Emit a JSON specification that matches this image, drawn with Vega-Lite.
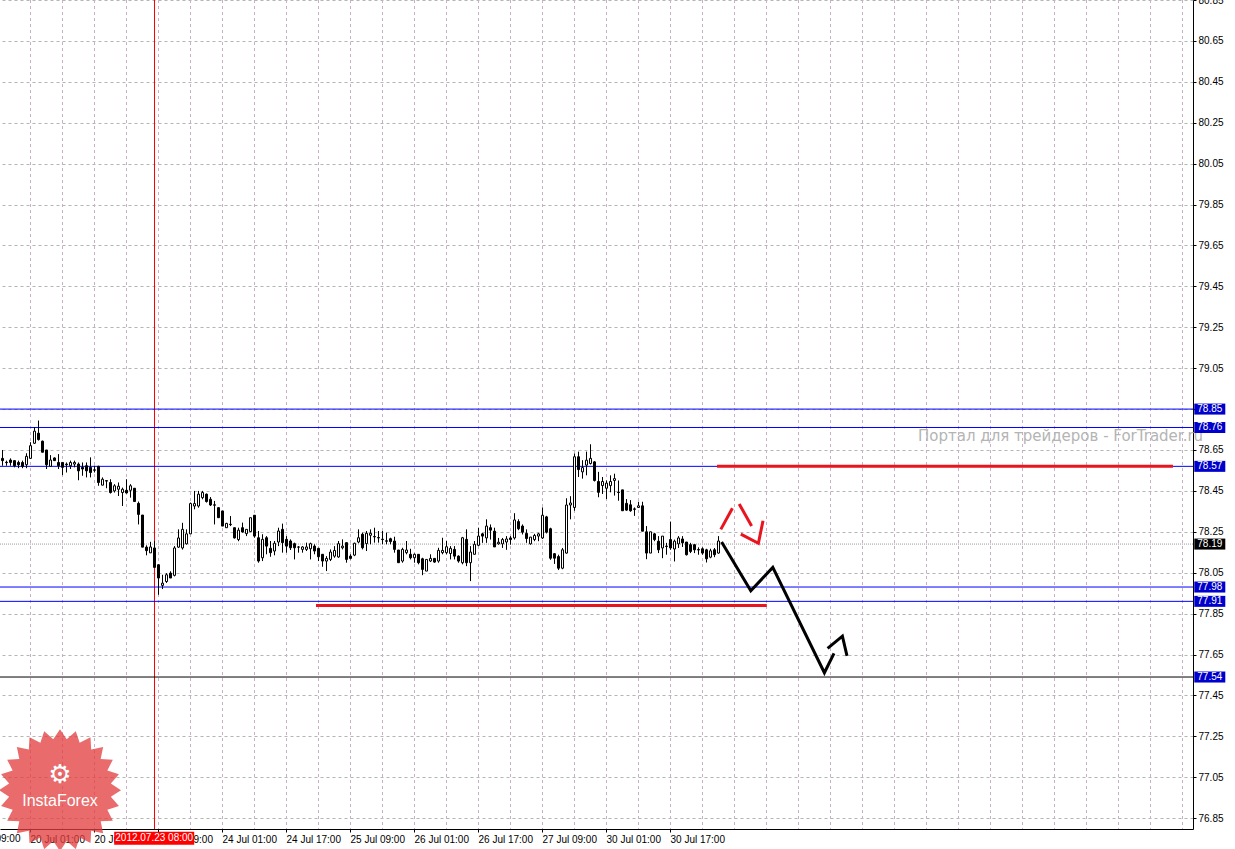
{
  "$schema": "https://vega.github.io/schema/vega-lite/v6.json",
  "width": 1193,
  "height": 829,
  "autosize": {"type": "none"},
  "padding": {"left": 0, "top": 0, "right": 42, "bottom": 20},
  "background": "#ffffff",
  "config": {
    "view": {"stroke": null},
    "scale": {"continuousPadding": 0},
    "axis": {"labelFont": "Liberation Sans", "labelFontSize": 10, "labelColor": "#000000", "titleOpacity": 0}
  },
  "datasets": {
    "candles": [
      {"t":-7,"o":78.609,"h":78.650,"l":78.573,"c":78.598},
      {"t":-6,"o":78.590,"h":78.598,"l":78.573,"c":78.588},
      {"t":-5,"o":78.601,"h":78.609,"l":78.573,"c":78.589},
      {"t":-4,"o":78.598,"h":78.598,"l":78.565,"c":78.573},
      {"t":-3,"o":78.589,"h":78.598,"l":78.561,"c":78.578},
      {"t":-2,"o":78.589,"h":78.598,"l":78.561,"c":78.570},
      {"t":-1,"o":78.578,"h":78.634,"l":78.561,"c":78.619},
      {"t":0,"o":78.609,"h":78.688,"l":78.606,"c":78.671},
      {"t":1,"o":78.683,"h":78.761,"l":78.680,"c":78.742},
      {"t":2,"o":78.732,"h":78.794,"l":78.696,"c":78.701},
      {"t":3,"o":78.693,"h":78.696,"l":78.639,"c":78.639},
      {"t":4,"o":78.650,"h":78.650,"l":78.557,"c":78.578},
      {"t":5,"o":78.570,"h":78.625,"l":78.570,"c":78.601},
      {"t":6,"o":78.611,"h":78.614,"l":78.598,"c":78.598},
      {"t":7,"o":78.589,"h":78.630,"l":78.557,"c":78.573},
      {"t":8,"o":78.589,"h":78.589,"l":78.527,"c":78.565},
      {"t":9,"o":78.581,"h":78.589,"l":78.540,"c":78.578},
      {"t":10,"o":78.573,"h":78.598,"l":78.557,"c":78.589},
      {"t":11,"o":78.581,"h":78.598,"l":78.565,"c":78.589},
      {"t":12,"o":78.581,"h":78.589,"l":78.502,"c":78.548},
      {"t":13,"o":78.565,"h":78.589,"l":78.524,"c":78.557},
      {"t":14,"o":78.573,"h":78.589,"l":78.516,"c":78.548},
      {"t":15,"o":78.565,"h":78.614,"l":78.516,"c":78.540},
      {"t":16,"o":78.553,"h":78.573,"l":78.540,"c":78.551},
      {"t":17,"o":78.570,"h":78.573,"l":78.475,"c":78.491},
      {"t":18,"o":78.478,"h":78.516,"l":78.478,"c":78.507},
      {"t":19,"o":78.500,"h":78.500,"l":78.463,"c":78.498},
      {"t":20,"o":78.491,"h":78.507,"l":78.437,"c":78.442},
      {"t":21,"o":78.450,"h":78.483,"l":78.442,"c":78.475},
      {"t":22,"o":78.458,"h":78.491,"l":78.425,"c":78.473},
      {"t":23,"o":78.442,"h":78.466,"l":78.376,"c":78.458},
      {"t":24,"o":78.453,"h":78.507,"l":78.437,"c":78.440},
      {"t":25,"o":78.453,"h":78.483,"l":78.417,"c":78.475},
      {"t":26,"o":78.463,"h":78.463,"l":78.398,"c":78.398},
      {"t":27,"o":78.389,"h":78.398,"l":78.286,"c":78.335},
      {"t":28,"o":78.332,"h":78.332,"l":78.175,"c":78.175},
      {"t":29,"o":78.175,"h":78.184,"l":78.135,"c":78.158},
      {"t":30,"o":78.147,"h":78.201,"l":78.147,"c":78.176},
      {"t":31,"o":78.171,"h":78.204,"l":78.076,"c":78.076},
      {"t":32,"o":78.089,"h":78.089,"l":77.942,"c":78.024},
      {"t":33,"o":77.988,"h":78.040,"l":77.970,"c":77.999},
      {"t":34,"o":78.007,"h":78.048,"l":78.000,"c":78.040},
      {"t":35,"o":78.048,"h":78.057,"l":78.024,"c":78.024},
      {"t":36,"o":78.037,"h":78.180,"l":78.032,"c":78.171},
      {"t":37,"o":78.175,"h":78.262,"l":78.171,"c":78.220},
      {"t":38,"o":78.171,"h":78.294,"l":78.163,"c":78.262},
      {"t":39,"o":78.191,"h":78.262,"l":78.188,"c":78.240},
      {"t":40,"o":78.240,"h":78.393,"l":78.240,"c":78.388},
      {"t":41,"o":78.376,"h":78.450,"l":78.360,"c":78.388},
      {"t":42,"o":78.376,"h":78.450,"l":78.368,"c":78.434},
      {"t":43,"o":78.417,"h":78.450,"l":78.409,"c":78.442},
      {"t":44,"o":78.434,"h":78.437,"l":78.393,"c":78.398},
      {"t":45,"o":78.409,"h":78.420,"l":78.376,"c":78.381},
      {"t":46,"o":78.382,"h":78.401,"l":78.286,"c":78.380},
      {"t":47,"o":78.368,"h":78.368,"l":78.319,"c":78.319},
      {"t":48,"o":78.352,"h":78.352,"l":78.278,"c":78.278},
      {"t":49,"o":78.270,"h":78.294,"l":78.270,"c":78.291},
      {"t":50,"o":78.287,"h":78.327,"l":78.278,"c":78.285},
      {"t":51,"o":78.270,"h":78.270,"l":78.217,"c":78.220},
      {"t":52,"o":78.212,"h":78.270,"l":78.204,"c":78.258},
      {"t":53,"o":78.270,"h":78.295,"l":78.246,"c":78.249},
      {"t":54,"o":78.241,"h":78.262,"l":78.229,"c":78.262},
      {"t":55,"o":78.251,"h":78.319,"l":78.251,"c":78.319},
      {"t":56,"o":78.331,"h":78.331,"l":78.221,"c":78.229},
      {"t":57,"o":78.221,"h":78.254,"l":78.099,"c":78.107},
      {"t":58,"o":78.123,"h":78.238,"l":78.107,"c":78.213},
      {"t":59,"o":78.221,"h":78.229,"l":78.140,"c":78.180},
      {"t":60,"o":78.169,"h":78.205,"l":78.128,"c":78.148},
      {"t":61,"o":78.156,"h":78.205,"l":78.135,"c":78.194},
      {"t":62,"o":78.200,"h":78.270,"l":78.180,"c":78.254},
      {"t":63,"o":78.262,"h":78.290,"l":78.148,"c":78.197},
      {"t":64,"o":78.213,"h":78.229,"l":78.148,"c":78.180},
      {"t":65,"o":78.205,"h":78.213,"l":78.161,"c":78.172},
      {"t":66,"o":78.192,"h":78.197,"l":78.115,"c":78.172},
      {"t":67,"o":78.176,"h":78.180,"l":78.148,"c":78.175},
      {"t":68,"o":78.164,"h":78.180,"l":78.148,"c":78.176},
      {"t":69,"o":78.164,"h":78.197,"l":78.156,"c":78.176},
      {"t":70,"o":78.167,"h":78.197,"l":78.115,"c":78.192},
      {"t":71,"o":78.180,"h":78.189,"l":78.140,"c":78.156},
      {"t":72,"o":78.169,"h":78.172,"l":78.107,"c":78.128},
      {"t":73,"o":78.140,"h":78.140,"l":78.079,"c":78.107},
      {"t":74,"o":78.107,"h":78.131,"l":78.058,"c":78.120},
      {"t":75,"o":78.115,"h":78.164,"l":78.107,"c":78.151},
      {"t":76,"o":78.131,"h":78.180,"l":78.123,"c":78.159},
      {"t":77,"o":78.127,"h":78.205,"l":78.123,"c":78.192},
      {"t":78,"o":78.172,"h":78.213,"l":78.164,"c":78.180},
      {"t":79,"o":78.197,"h":78.197,"l":78.099,"c":78.115},
      {"t":80,"o":78.131,"h":78.140,"l":78.115,"c":78.120},
      {"t":81,"o":78.136,"h":78.197,"l":78.131,"c":78.194},
      {"t":82,"o":78.200,"h":78.262,"l":78.194,"c":78.221},
      {"t":83,"o":78.238,"h":78.246,"l":78.164,"c":78.172},
      {"t":84,"o":78.192,"h":78.254,"l":78.156,"c":78.243},
      {"t":85,"o":78.233,"h":78.262,"l":78.189,"c":78.243},
      {"t":86,"o":78.227,"h":78.270,"l":78.197,"c":78.225},
      {"t":87,"o":78.222,"h":78.254,"l":78.197,"c":78.220},
      {"t":88,"o":78.214,"h":78.254,"l":78.189,"c":78.212},
      {"t":89,"o":78.206,"h":78.246,"l":78.189,"c":78.204},
      {"t":90,"o":78.216,"h":78.221,"l":78.189,"c":78.202},
      {"t":91,"o":78.205,"h":78.226,"l":78.148,"c":78.164},
      {"t":92,"o":78.161,"h":78.161,"l":78.099,"c":78.099},
      {"t":93,"o":78.107,"h":78.172,"l":78.099,"c":78.164},
      {"t":94,"o":78.148,"h":78.205,"l":78.140,"c":78.161},
      {"t":95,"o":78.140,"h":78.167,"l":78.115,"c":78.123},
      {"t":96,"o":78.123,"h":78.144,"l":78.099,"c":78.140},
      {"t":97,"o":78.140,"h":78.140,"l":78.091,"c":78.099},
      {"t":98,"o":78.118,"h":78.123,"l":78.038,"c":78.066},
      {"t":99,"o":78.058,"h":78.115,"l":78.058,"c":78.115},
      {"t":100,"o":78.107,"h":78.140,"l":78.102,"c":78.120},
      {"t":101,"o":78.120,"h":78.120,"l":78.099,"c":78.102},
      {"t":102,"o":78.107,"h":78.172,"l":78.099,"c":78.159},
      {"t":103,"o":78.148,"h":78.221,"l":78.140,"c":78.159},
      {"t":104,"o":78.148,"h":78.205,"l":78.140,"c":78.177},
      {"t":105,"o":78.144,"h":78.180,"l":78.115,"c":78.169},
      {"t":106,"o":78.164,"h":78.180,"l":78.115,"c":78.131},
      {"t":107,"o":78.131,"h":78.135,"l":78.099,"c":78.107},
      {"t":108,"o":78.099,"h":78.225,"l":78.091,"c":78.221},
      {"t":109,"o":78.213,"h":78.262,"l":78.082,"c":78.099},
      {"t":110,"o":78.099,"h":78.180,"l":78.009,"c":78.151},
      {"t":111,"o":78.140,"h":78.205,"l":78.140,"c":78.189},
      {"t":112,"o":78.184,"h":78.270,"l":78.180,"c":78.229},
      {"t":113,"o":78.240,"h":78.245,"l":78.196,"c":78.229},
      {"t":114,"o":78.220,"h":78.311,"l":78.196,"c":78.278},
      {"t":115,"o":78.270,"h":78.286,"l":78.212,"c":78.258},
      {"t":116,"o":78.253,"h":78.270,"l":78.176,"c":78.176},
      {"t":117,"o":78.191,"h":78.220,"l":78.187,"c":78.199},
      {"t":118,"o":78.191,"h":78.220,"l":78.171,"c":78.212},
      {"t":119,"o":78.200,"h":78.229,"l":78.162,"c":78.215},
      {"t":120,"o":78.220,"h":78.229,"l":78.187,"c":78.212},
      {"t":121,"o":78.220,"h":78.341,"l":78.212,"c":78.308},
      {"t":122,"o":78.300,"h":78.311,"l":78.258,"c":78.265},
      {"t":123,"o":78.278,"h":78.286,"l":78.237,"c":78.248},
      {"t":124,"o":78.242,"h":78.262,"l":78.196,"c":78.217},
      {"t":125,"o":78.191,"h":78.225,"l":78.187,"c":78.224},
      {"t":126,"o":78.212,"h":78.240,"l":78.204,"c":78.232},
      {"t":127,"o":78.229,"h":78.245,"l":78.204,"c":78.240},
      {"t":128,"o":78.220,"h":78.369,"l":78.215,"c":78.331},
      {"t":129,"o":78.323,"h":78.328,"l":78.242,"c":78.248},
      {"t":130,"o":78.265,"h":78.270,"l":78.113,"c":78.121},
      {"t":131,"o":78.143,"h":78.146,"l":78.093,"c":78.121},
      {"t":132,"o":78.129,"h":78.138,"l":78.063,"c":78.072},
      {"t":133,"o":78.072,"h":78.171,"l":78.067,"c":78.162},
      {"t":134,"o":78.146,"h":78.414,"l":78.143,"c":78.381},
      {"t":135,"o":78.381,"h":78.424,"l":78.311,"c":78.391},
      {"t":136,"o":78.369,"h":78.633,"l":78.353,"c":78.617},
      {"t":137,"o":78.617,"h":78.642,"l":78.518,"c":78.554},
      {"t":138,"o":78.543,"h":78.600,"l":78.510,"c":78.564},
      {"t":139,"o":78.576,"h":78.642,"l":78.526,"c":78.600},
      {"t":140,"o":78.584,"h":78.678,"l":78.579,"c":78.609},
      {"t":141,"o":78.592,"h":78.595,"l":78.496,"c":78.501},
      {"t":142,"o":78.496,"h":78.543,"l":78.419,"c":78.443},
      {"t":143,"o":78.476,"h":78.518,"l":78.435,"c":78.496},
      {"t":144,"o":78.463,"h":78.501,"l":78.410,"c":78.488},
      {"t":145,"o":78.476,"h":78.526,"l":78.443,"c":78.496},
      {"t":146,"o":78.501,"h":78.534,"l":78.427,"c":78.510},
      {"t":147,"o":78.444,"h":78.501,"l":78.402,"c":78.442},
      {"t":148,"o":78.455,"h":78.455,"l":78.353,"c":78.353},
      {"t":149,"o":78.389,"h":78.410,"l":78.353,"c":78.356},
      {"t":150,"o":78.382,"h":78.405,"l":78.348,"c":78.353},
      {"t":151,"o":78.362,"h":78.369,"l":78.328,"c":78.360},
      {"t":152,"o":78.369,"h":78.397,"l":78.369,"c":78.377},
      {"t":153,"o":78.377,"h":78.397,"l":78.253,"c":78.253},
      {"t":154,"o":78.250,"h":78.278,"l":78.116,"c":78.146},
      {"t":155,"o":78.146,"h":78.250,"l":78.146,"c":78.250},
      {"t":156,"o":78.240,"h":78.245,"l":78.204,"c":78.212},
      {"t":157,"o":78.204,"h":78.229,"l":78.146,"c":78.162},
      {"t":158,"o":78.171,"h":78.229,"l":78.121,"c":78.229},
      {"t":159,"o":78.180,"h":78.196,"l":78.138,"c":78.178},
      {"t":160,"o":78.212,"h":78.300,"l":78.162,"c":78.171},
      {"t":161,"o":78.166,"h":78.212,"l":78.105,"c":78.204},
      {"t":162,"o":78.191,"h":78.229,"l":78.171,"c":78.220},
      {"t":163,"o":78.215,"h":78.229,"l":78.176,"c":78.196},
      {"t":164,"o":78.200,"h":78.200,"l":78.134,"c":78.138},
      {"t":165,"o":78.187,"h":78.196,"l":78.146,"c":78.154},
      {"t":166,"o":78.187,"h":78.190,"l":78.146,"c":78.162},
      {"t":167,"o":78.163,"h":78.174,"l":78.138,"c":78.161},
      {"t":168,"o":78.167,"h":78.174,"l":78.138,"c":78.146},
      {"t":169,"o":78.162,"h":78.167,"l":78.100,"c":78.118},
      {"t":170,"o":78.126,"h":78.167,"l":78.121,"c":78.157},
      {"t":171,"o":78.162,"h":78.171,"l":78.126,"c":78.138},
      {"t":172,"o":78.146,"h":78.229,"l":78.143,"c":78.205}
    ],
    "vgrid": [{"g":0},{"g":8},{"g":16},{"g":24},{"g":32},{"g":40},{"g":48},{"g":56},{"g":64},{"g":72},{"g":80},{"g":88},{"g":96},{"g":104},{"g":112},{"g":120},{"g":128},{"g":136},{"g":144},{"g":152},{"g":160},{"g":168},{"g":176},{"g":184},{"g":192},{"g":200},{"g":208},{"g":216},{"g":224},{"g":232},{"g":240},{"g":248},{"g":256},{"g":264},{"g":272},{"g":280},{"g":288}],
    "blueLevels": [{"v":78.85},{"v":78.76},{"v":78.57},{"v":77.98},{"v":77.91}],
    "blueBoxes": [{"v":78.85},{"v":78.76},{"v":78.57},{"v":77.98},{"v":77.91},{"v":77.54}],
    "redBars": [{"t1":171.75,"t2":285.75,"v":78.57},{"t1":71.5,"t2":184.2,"v":77.89}],
    "redArrow": [
      {"seg":"r1","k":0,"t":172.7,"v":78.262},{"seg":"r1","k":1,"t":175.6,"v":78.365},
      {"seg":"r2","k":0,"t":177.3,"v":78.386},{"seg":"r2","k":1,"t":180.4,"v":78.278},
      {"seg":"r3","k":0,"t":177.7,"v":78.239},{"seg":"r3","k":1,"t":182.1,"v":78.194},{"seg":"r3","k":2,"t":183.25,"v":78.304}
    ],
    "forecast": [
      {"seg":"a","k":0,"t":172.9,"v":78.200},{"seg":"a","k":1,"t":180.2,"v":77.962},{"seg":"a","k":2,"t":185.7,"v":78.076},
      {"seg":"a","k":3,"t":198.6,"v":77.561},{"seg":"a","k":4,"t":201.0,"v":77.656},
      {"seg":"b","k":0,"t":199.4,"v":77.680},{"seg":"b","k":1,"t":203.1,"v":77.740},{"seg":"b","k":2,"t":204.25,"v":77.643}
    ]
  },
  "layer": [
    {
      "data": {"name": "vgrid"},
      "mark": {"type": "rule", "color": "#c8b0c8", "strokeWidth": 1, "strokeDash": [3,3], "xOffset": 0.5},
      "encoding": {
        "x": {"field": "g", "type": "quantitative", "title": null}
      }
    },
    {
      "data": {"values": [{}]},
      "mark": {"type": "rule", "color": "#ff0000", "strokeWidth": 1, "xOffset": 0.5},
      "encoding": {
        "x": {"datum": 31, "type": "quantitative"}
      }
    },
    {
      "data": {"name": "blueLevels"},
      "mark": {"type": "rule", "color": "#0000ff", "strokeWidth": 1},
      "encoding": {
        "y": {"field": "v", "type": "quantitative", "title": null}
      }
    },
    {
      "data": {"values": [{}]},
      "mark": {"type": "rule", "color": "#000000", "strokeWidth": 1},
      "encoding": {"y": {"datum": 77.54, "type": "quantitative"}}
    },
    {
      "data": {"values": [{}]},
      "mark": {"type": "rule", "color": "#9a9a9a", "strokeWidth": 1, "strokeDash": [1,1]},
      "encoding": {"y": {"datum": 78.19, "type": "quantitative"}}
    },
    {
      "data": {"name": "candles"},
      "mark": {"type": "rule", "color": "#000000", "strokeWidth": 1, "xOffset": 0.5},
      "encoding": {
        "x": {"field": "t", "type": "quantitative", "title": null,
          "scale": {"domain": [-7.5, 290.75], "nice": false, "zero": false, "padding": 0},
          "axis": {"orient": "bottom", "values": [-16,0,16,32,48,64,80,96,112,128,144,160],
            "labelExpr": "['19 Jul 09:00','20 Jul 01:00','20 Jul 17:00','23 Jul 09:00','24 Jul 01:00','24 Jul 17:00','25 Jul 09:00','26 Jul 01:00','26 Jul 17:00','27 Jul 09:00','30 Jul 01:00','30 Jul 17:00'][round((datum.value + 16) / 16)]",
            "grid": false, "labelAlign": "left", "labelBaseline": "top", "labelPadding": 2, "tickSize": 3, "tickColor": "#000000",
            "domainColor": "#000000", "labelFlush": false, "labelOverlap": false, "labelBound": false, "title": null}
        },
        "y": {"field": "l", "type": "quantitative", "title": null,
          "scale": {"domain": [76.797, 80.85], "nice": false, "zero": false, "padding": 0},
          "axis": {"orient": "right", "values": [76.85,77.05,77.25,77.45,77.65,77.85,78.05,78.25,78.45,78.65,78.85,79.05,79.25,79.45,79.65,79.85,80.05,80.25,80.45,80.65,80.85],
            "format": ".2f", "grid": true, "gridDash": [3,3], "gridColor": "#b0b8b0", "tickSize": 3, "tickColor": "#000000", "domainColor": "#000000",
            "labelPadding": 2, "labelFlush": false, "labelOverlap": false, "labelBound": false, "title": null}
        },
        "y2": {"field": "h"}
      }
    },
    {
      "data": {"name": "candles"},
      "mark": {"type": "bar", "width": 2, "stroke": "#000000", "strokeWidth": 1, "xOffset": 0.5},
      "encoding": {
        "x": {"field": "t", "type": "quantitative", "title": null},
        "y": {"field": "o", "type": "quantitative", "title": null},
        "y2": {"field": "c"},
        "fill": {"condition": {"test": "datum.c >= datum.o", "value": "#ffffff"}, "value": "#000000"}
      }
    },
    {
      "data": {"name": "redBars"},
      "mark": {"type": "rule", "color": "#e8141e", "strokeWidth": 3},
      "encoding": {
        "x": {"field": "t1", "type": "quantitative", "title": null},
        "x2": {"field": "t2"},
        "y": {"field": "v", "type": "quantitative", "title": null}
      }
    },
    {
      "data": {"name": "redArrow"},
      "mark": {"type": "line", "color": "#e8141e", "strokeWidth": 3},
      "encoding": {
        "x": {"field": "t", "type": "quantitative", "title": null},
        "y": {"field": "v", "type": "quantitative", "title": null},
        "detail": {"field": "seg"},
        "order": {"field": "k"}
      }
    },
    {
      "data": {"name": "forecast"},
      "mark": {"type": "line", "color": "#000000", "strokeWidth": 3},
      "encoding": {
        "x": {"field": "t", "type": "quantitative", "title": null},
        "y": {"field": "v", "type": "quantitative", "title": null},
        "detail": {"field": "seg"},
        "order": {"field": "k"}
      }
    },
    {
      "data": {"values": [{"label": "Портал для трейдеров - ForTrader.ru"}]},
      "mark": {"type": "text", "align": "left", "baseline": "middle", "font": "DejaVu Sans", "fontSize": 15, "color": "#b4b4b4"},
      "encoding": {
        "x": {"datum": 222, "type": "quantitative"},
        "y": {"datum": 78.718, "type": "quantitative"},
        "text": {"field": "label"}
      }
    },
    {
      "data": {"values": [{"label": "19 Jul 09:00"}]},
      "mark": {"type": "text", "align": "left", "baseline": "top", "font": "Liberation Sans", "fontSize": 10, "color": "#000000"},
      "encoding": {
        "x": {"datum": -16, "type": "quantitative"},
        "y": {"datum": 76.772, "type": "quantitative"},
        "text": {"field": "label"}
      }
    },
    {
      "data": {"values": [{}]},
      "mark": {"type": "point", "filled": true, "fill": "#e23c3c", "opacity": 0.76, "strokeWidth": 0, "size": 14884,
        "shape": "M1,0L0.833,0.11L0.966,0.259L0.776,0.322L0.866,0.5L0.667,0.511L0.707,0.707L0.511,0.667L0.5,0.866L0.322,0.776L0.259,0.966L0.11,0.833L0,1L-0.11,0.833L-0.259,0.966L-0.322,0.776L-0.5,0.866L-0.511,0.667L-0.707,0.707L-0.667,0.511L-0.866,0.5L-0.776,0.322L-0.966,0.259L-0.833,0.11L-1,0L-0.833,-0.11L-0.966,-0.259L-0.776,-0.322L-0.866,-0.5L-0.667,-0.511L-0.707,-0.707L-0.511,-0.667L-0.5,-0.866L-0.322,-0.776L-0.259,-0.966L-0.11,-0.833L0,-1L0.11,-0.833L0.259,-0.966L0.322,-0.776L0.5,-0.866L0.511,-0.667L0.707,-0.707L0.667,-0.511L0.866,-0.5L0.776,-0.322L0.966,-0.259L0.833,-0.11Z"},
      "encoding": {
        "x": {"datum": 7.5, "type": "quantitative"},
        "y": {"datum": 76.987, "type": "quantitative"}
      }
    },
    {
      "data": {"values": [{"label": "⚙"}]},
      "mark": {"type": "text", "align": "center", "baseline": "middle", "font": "DejaVu Sans", "fontSize": 26, "color": "#ffffff"},
      "encoding": {
        "x": {"datum": 7.5, "type": "quantitative"},
        "y": {"datum": 77.06, "type": "quantitative"},
        "text": {"field": "label"}
      }
    },
    {
      "data": {"values": [{"label": "InstaForex"}]},
      "mark": {"type": "text", "align": "center", "baseline": "middle", "font": "Liberation Sans", "fontSize": 16, "color": "#ffffff"},
      "encoding": {
        "x": {"datum": 7.5, "type": "quantitative"},
        "y": {"datum": 76.933, "type": "quantitative"},
        "text": {"field": "label"}
      }
    },
    {
      "data": {"name": "blueBoxes"},
      "mark": {"type": "tick", "orient": "horizontal", "color": "#0000cc", "opacity": 1, "size": 31, "thickness": 11},
      "encoding": {
        "x": {"datum": 294.95, "type": "quantitative"},
        "y": {"field": "v", "type": "quantitative", "title": null}
      }
    },
    {
      "data": {"values": [{"v": 78.19}]},
      "mark": {"type": "tick", "orient": "horizontal", "color": "#000000", "opacity": 1, "size": 31, "thickness": 11},
      "encoding": {
        "x": {"datum": 294.95, "type": "quantitative"},
        "y": {"field": "v", "type": "quantitative", "title": null}
      }
    },
    {
      "data": {"values": [{"v":78.85},{"v":78.76},{"v":78.57},{"v":77.98},{"v":77.91},{"v":77.54},{"v":78.19}]},
      "mark": {"type": "text", "align": "center", "baseline": "middle", "font": "Liberation Sans", "fontSize": 10, "color": "#ffffff"},
      "encoding": {
        "x": {"datum": 294.95, "type": "quantitative"},
        "y": {"field": "v", "type": "quantitative", "title": null},
        "text": {"field": "v", "type": "quantitative", "format": ".2f"}
      }
    },
    {
      "data": {"values": [{}]},
      "mark": {"type": "tick", "orient": "horizontal", "color": "#ff0000", "opacity": 1, "size": 80, "thickness": 13},
      "encoding": {
        "x": {"datum": 31.05, "type": "quantitative"},
        "y": {"datum": 76.752, "type": "quantitative"}
      }
    },
    {
      "data": {"values": [{"label": "2012.07.23 08:00"}]},
      "mark": {"type": "text", "align": "center", "baseline": "middle", "font": "Liberation Sans", "fontSize": 10, "color": "#ffffff"},
      "encoding": {
        "x": {"datum": 31.05, "type": "quantitative"},
        "y": {"datum": 76.752, "type": "quantitative"},
        "text": {"field": "label"}
      }
    }
  ]
}
